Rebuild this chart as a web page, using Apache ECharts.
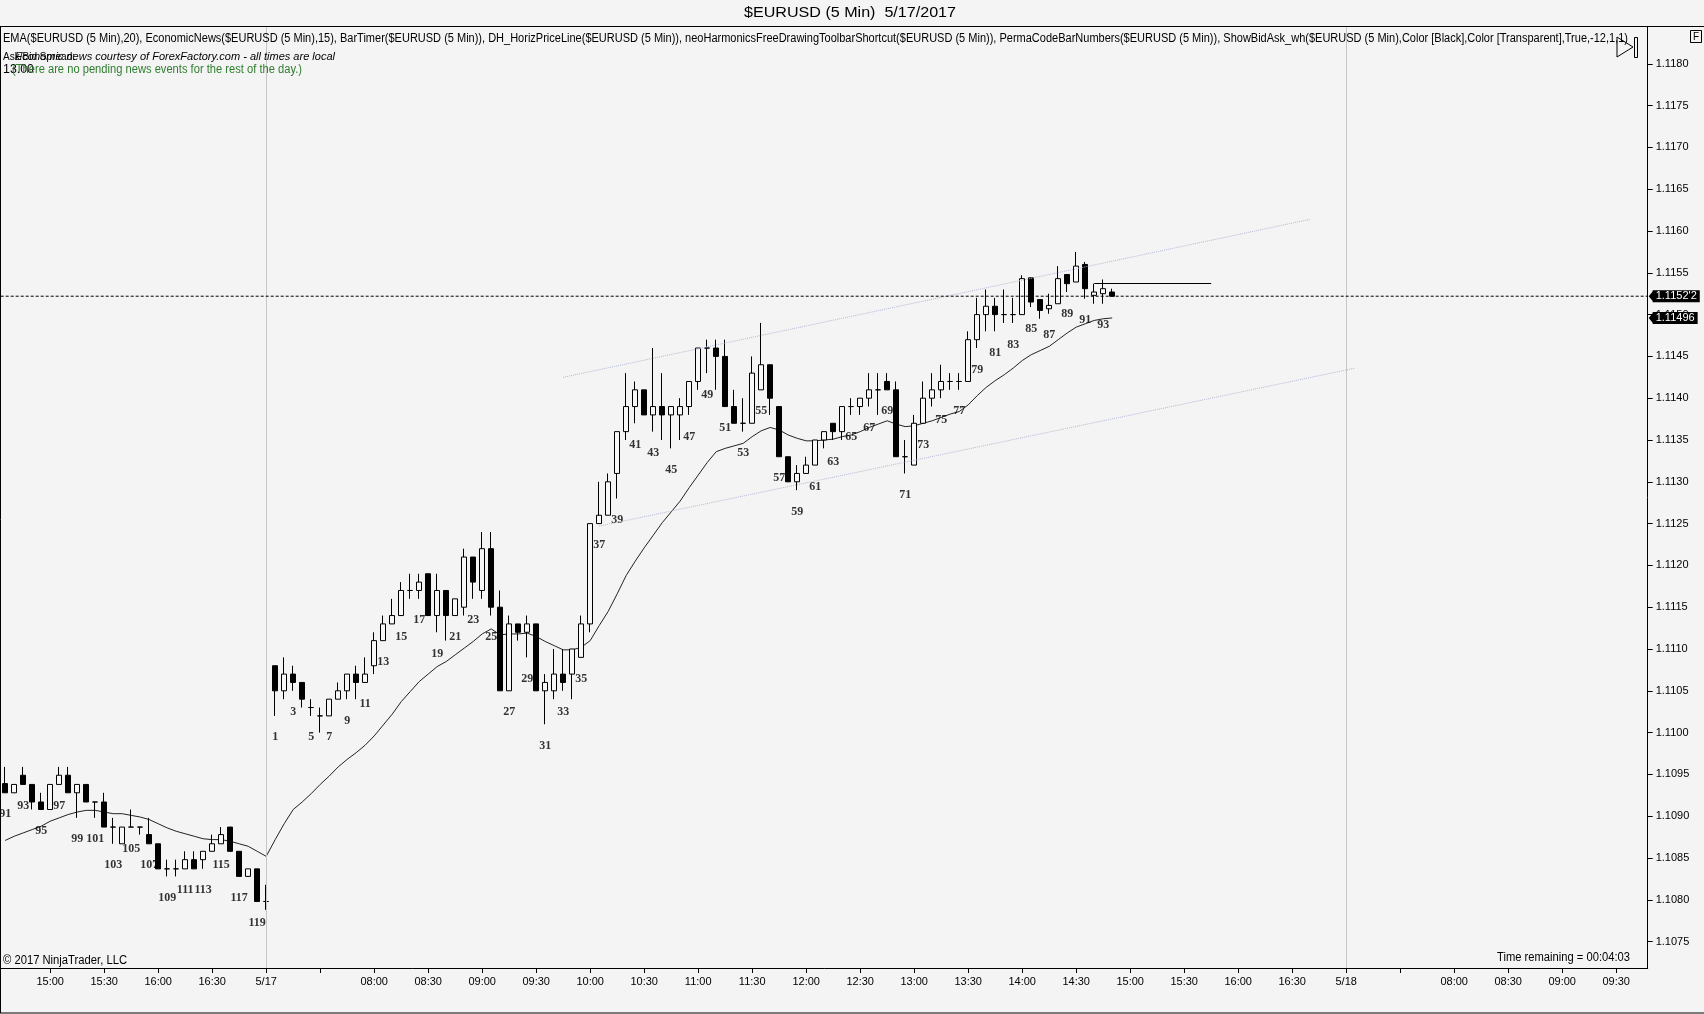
<!DOCTYPE html>
<html><head><meta charset="utf-8">
<script src="https://cdn.jsdelivr.net/npm/echarts/dist/echarts.min.js"></script>
<style>html,body{margin:0;padding:0;background:#f4f4f4}#c{width:1704px;height:1014px}</style>
</head><body><div id="c"></div><script>
// ---------------- DATA ----------------
// Previous session (5/16) bars 91..120, each [open, close, low, high]
const prevDayBars = [
 [1.10939,1.10928,1.10928,1.10959],[1.10928,1.10938,1.10928,1.10938],[1.10949,1.10938,1.10938,1.10959],
 [1.10938,1.10917,1.10908,1.10938],[1.10917,1.10908,1.10908,1.10928],[1.10908,1.10938,1.10908,1.10938],
 [1.10938,1.10949,1.10938,1.10959],[1.10949,1.10928,1.10928,1.10959],[1.10928,1.10938,1.10898,1.10938],
 [1.10938,1.10917,1.10917,1.10938],[1.10917,1.10917,1.10898,1.10917],[1.10917,1.10887,1.10887,1.10928],
 [1.10887,1.10887,1.10867,1.10898],[1.10867,1.10887,1.10867,1.10887],[1.10887,1.10887,1.10887,1.10908],
 [1.10887,1.10887,1.10878,1.10887],[1.10878,1.10867,1.10867,1.10898],[1.10867,1.10837,1.10837,1.10867],
 [1.10837,1.10837,1.10828,1.10848],[1.10837,1.10837,1.10828,1.10848],[1.10837,1.10848,1.10837,1.10858],
 [1.10848,1.10837,1.10837,1.10858],[1.10848,1.10858,1.10837,1.10858],[1.10858,1.10867,1.10858,1.10878],
 [1.10867,1.10878,1.10867,1.10887],[1.10887,1.10858,1.10858,1.10887],[1.10858,1.10828,1.10828,1.10858],
 [1.10828,1.10837,1.10828,1.10837],[1.10837,1.10798,1.10798,1.10837],[1.10798,1.10798,1.10788,1.10818]
];
const prevFirstBarNumber = 91;
// Current session (5/17) bars 1..94, each [open, close, low, high]
const todayBars = [
 [1.1108,1.1105,1.1102,1.1108],[1.1105,1.1107,1.1104,1.1109],[1.1107,1.1106,1.1105,1.1108],[1.1106,1.1104,1.1103,1.1106],
 [1.1103,1.1103,1.1102,1.1104],[1.1102,1.1102,1.1100,1.1103],[1.1102,1.1104,1.1102,1.1104],[1.1104,1.1105,1.1104,1.1106],
 [1.1105,1.1107,1.1104,1.1107],[1.1107,1.1106,1.1104,1.1108],[1.1106,1.1107,1.1106,1.1109],[1.1108,1.1111,1.1107,1.1112],
 [1.1111,1.1113,1.1111,1.1114],[1.1113,1.1114,1.1113,1.1116],[1.1114,1.1117,1.1114,1.1118],[1.1117,1.1117,1.1116,1.1119],
 [1.1117,1.1118,1.1116,1.1119],[1.1119,1.1114,1.1114,1.1119],[1.1114,1.1117,1.1112,1.1119],[1.1117,1.1114,1.1111,1.1117],
 [1.1114,1.1116,1.1114,1.1116],[1.1115,1.1121,1.1114,1.1122],[1.1121,1.1118,1.1116,1.1121],[1.1117,1.1122,1.1116,1.1124],
 [1.1122,1.1115,1.1114,1.1124],[1.1115,1.1105,1.1105,1.1117],[1.1105,1.1113,1.1105,1.1114],[1.1113,1.1112,1.1111,1.1113],
 [1.1112,1.1113,1.1109,1.1114],[1.1113,1.1105,1.1105,1.1113],[1.1105,1.1106,1.1101,1.1107],[1.1105,1.1107,1.1104,1.1110],
 [1.1107,1.1106,1.1105,1.1110],[1.1107,1.1110,1.1104,1.1110],[1.1109,1.1113,1.1109,1.1114],[1.1113,1.1125,1.1112,1.1125],
 [1.1125,1.1126,1.1125,1.1130],[1.1126,1.1130,1.1126,1.1131],[1.1131,1.1136,1.1128,1.1136],[1.1136,1.1139,1.1135,1.1143],
 [1.1139,1.1141,1.1137,1.1142],[1.1141,1.1138,1.1138,1.1141],[1.1138,1.1139,1.1136,1.1146],[1.1139,1.1138,1.1135,1.1143],
 [1.1138,1.1139,1.1134,1.1139],[1.1138,1.1139,1.1135,1.1140],[1.1139,1.1142,1.1138,1.1142],[1.1142,1.1146,1.1141,1.1146],
 [1.1146,1.1146,1.1143,1.1147],[1.1146,1.1145,1.1141,1.1147],[1.1145,1.1139,1.1139,1.1147],[1.1139,1.1137,1.1137,1.1141],
 [1.1137,1.1137,1.1136,1.1140],[1.1137,1.1143,1.1137,1.1145],[1.1141,1.1144,1.1141,1.1149],[1.1144,1.1140,1.1138,1.1144],
 [1.1139,1.1133,1.1133,1.1139],[1.1133,1.1130,1.1130,1.1133],[1.1130,1.1131,1.1129,1.1132],[1.1131,1.1132,1.1131,1.1133],
 [1.1132,1.1135,1.1132,1.1135],[1.1135,1.1136,1.1134,1.1136],[1.1137,1.1136,1.1135,1.1137],[1.1136,1.1139,1.1135,1.1139],
 [1.1139,1.1139,1.1138,1.1140],[1.1139,1.1140,1.1138,1.1140],[1.1140,1.1141,1.1139,1.1143],[1.1141,1.1141,1.1138,1.1143],
 [1.1142,1.1141,1.1141,1.1143],[1.1141,1.1133,1.1133,1.1142],[1.1133,1.1133,1.1131,1.1135],[1.1132,1.1137,1.1132,1.1138],
 [1.1137,1.1140,1.1137,1.1142],[1.1140,1.1141,1.1139,1.1143],[1.1141,1.1142,1.1140,1.1144],[1.1142,1.1142,1.1141,1.1143],
 [1.1142,1.1142,1.1141,1.1143],[1.1142,1.1147,1.1142,1.1148],[1.1147,1.1150,1.1146,1.1152],[1.1150,1.1151,1.1148,1.1153],
 [1.1151,1.1150,1.1148,1.1152],[1.1150,1.1150,1.1149,1.1153],[1.1150,1.1150,1.1149,1.1152],[1.1150,1.11543,1.1150,1.11547],
 [1.11544,1.11515,1.11509,1.11544],[1.11518,1.11505,1.11495,1.11518],[1.11507,1.11511,1.11501,1.11525],[1.11513,1.11543,1.11513,1.11558],
 [1.11548,1.11537,1.11527,1.11548],[1.11539,1.11558,1.11539,1.11575],[1.11560,1.11531,1.11519,1.11563],[1.11523,1.11527,1.11513,1.11537],
 [1.11525,1.11531,1.11513,1.11542],[1.11527,1.11522,1.11522,1.11531]
];
// EMA(20)
const prevDayEma = [1.10871,1.10876,1.10880,1.10884,1.10888,1.10894,1.10898,1.10902,1.10905,1.10907,1.10907,1.10905,1.10903,1.10903,1.10901,
 1.10899,1.10896,1.10891,1.10886,1.10882,1.10879,1.10876,1.10873,1.10872,1.10872,1.10870,1.10867,1.10864,1.10858,1.10852];
const todayEma = [1.10872,1.10891,1.10908,1.10917,1.10927,1.10938,1.10948,1.10959,1.10968,1.10976,1.10985,1.10996,1.11009,1.11022,1.11037,
 1.11049,1.11061,1.11070,1.11079,1.11085,1.11093,1.11101,1.11109,1.11118,1.11124,1.11117,1.11118,1.11118,1.11119,1.11115,
 1.11109,1.11104,1.11099,1.11099,1.11102,1.11110,1.11128,1.11145,1.11166,1.11188,1.11205,1.11221,1.11236,1.11251,1.11264,
 1.11277,1.11293,1.11308,1.11323,1.11336,1.11340,1.11343,1.11346,1.11354,1.11361,1.11365,1.11362,1.11356,1.11352,1.11349,
 1.11349,1.11350,1.11351,1.11354,1.11356,1.11360,1.11365,1.11369,1.11373,1.11369,1.11366,1.11367,1.11370,1.11373,1.11377,
 1.11381,1.11384,1.11392,1.11403,1.11413,1.11421,1.11428,1.11436,1.11445,1.11452,1.11457,1.11462,1.11470,1.11478,1.11485,
 1.11489,1.11493,1.11495,1.11496];
// Drawn objects (slot index, price)
const upperChannel = [[62, 1.11425], [145, 1.11614]];
const lowerChannel = [[66, 1.11247], [150, 1.11436]];
const horizPriceLine = [[121, 1.11537], [134, 1.11537]];
// X-axis tick labels keyed by slot ('' = tick only)
const xTickLabels = {
 '5/16 15:00':'15:00','5/16 15:30':'15:30','5/16 16:00':'16:00','5/16 16:30':'16:30','5/16 17:00':'5/17',
 '5/17 07:30':'','5/17 08:00':'08:00','5/17 08:30':'08:30','5/17 09:00':'09:00','5/17 09:30':'09:30','5/17 10:00':'10:00',
 '5/17 10:30':'10:30','5/17 11:00':'11:00','5/17 11:30':'11:30','5/17 12:00':'12:00','5/17 12:30':'12:30','5/17 13:00':'13:00',
 '5/17 13:30':'13:30','5/17 14:00':'14:00','5/17 14:30':'14:30','5/17 15:00':'15:00','5/17 15:30':'15:30','5/17 16:00':'16:00',
 '5/17 16:30':'16:30','5/17 17:00':'5/18','5/18 07:30':'','5/18 08:00':'08:00','5/18 08:30':'08:30','5/18 09:00':'09:00','5/18 09:30':'09:30'
};
const yRange = [1.1071842, 1.1184402];

// ---------------- HELPERS ----------------
function slotTime(n){ const m = 7*60 + 5*n; const h = Math.floor(m/60), mm = m%60; return (h<10?'0':'')+h+':'+(mm<10?'0':'')+mm; }
const categories = [];
for (let n = prevFirstBarNumber; n < prevFirstBarNumber + prevDayBars.length; n++) categories.push('5/16 ' + slotTime(n));
for (let k = 1; k <= 120; k++) categories.push('5/17 ' + slotTime(k));
for (let k = 1; k <= 33; k++) categories.push('5/18 ' + slotTime(k));
const todayOffset = prevDayBars.length; // index of today's bar 1

const mctx = document.createElement('canvas').getContext('2d');
function textW(str, font){ mctx.font = font; return mctx.measureText(str).width; }
function hasFont(name){ const s='abcdefghijklmnopqrstuvwxyz0123456789ABCDEF'; return textW(s, '40px "'+name+'", monospace') !== textW(s, '40px monospace'); }
const NARROW = hasFont('Liberation Sans Narrow');
const AXF = NARROW ? '"Liberation Sans Narrow", "Liberation Sans", sans-serif' : '"Liberation Sans", sans-serif';
const AXS = NARROW ? 12 : 11;
const SANS = '"Liberation Sans", Arial, sans-serif';

function fitText(str, o){
  const font = (o.style||'normal')+' '+(o.weight||'normal')+' '+o.size+'px '+o.family;
  const w = textW(str, font);
  const sx = o.width ? o.width / w : 1;
  return { type:'text', x:o.x, y:o.y, scaleX:sx, silent:true, z:100,
    style:{ text:str, font:font, fill:o.color||'#000', textAlign:o.align||'left', textVerticalAlign:'middle', align:o.align||'left', verticalAlign:'middle' } };
}

const candleData = [], emaData = [], numData = [];
prevDayBars.forEach((b,j)=>{ candleData.push([j].concat(b)); const num = prevFirstBarNumber + j; if (num % 2) numData.push([j, b[2], num]); });
todayBars.forEach((b,j)=>{ candleData.push([todayOffset+j].concat(b)); const num = j+1; if (num % 2) numData.push([todayOffset+j, b[2], num]); });
prevDayEma.forEach((v,j)=>emaData.push([j, v]));
todayEma.forEach((v,j)=>emaData.push([todayOffset+j, v]));

const lastClose = todayBars[todayBars.length-1][1];
const lastEma = todayEma[todayEma.length-1];
const lc = lastClose.toFixed(5), lastCloseText = lc.slice(0,6) + "'" + lc.slice(6);
const tickShown = (idx) => Object.prototype.hasOwnProperty.call(xTickLabels, categories[idx]);

const chart = echarts.init(document.getElementById('c'));
const tagLabel = (txt) => ({ show:true, distance:5, formatter:txt, color:'#fff', backgroundColor:'#000',
  padding:[1,3,0,3], fontFamily:AXF, fontSize:AXS, lineHeight:11, align:'left', verticalAlign:'middle' });

chart.setOption({
  animation:false,
  backgroundColor:'#f4f4f4',
  grid:{ left:0.7, right:56.3, top:27, bottom:46, containLabel:false },
  xAxis:[{ type:'category', data:categories, boundaryGap:true,
    axisLine:{ show:true, onZero:false, lineStyle:{ color:'#000', width:1 } },
    axisTick:{ show:true, alignWithLabel:true, length:5, interval:(i)=>tickShown(i), lineStyle:{ color:'#000' } },
    axisLabel:{ interval:(i)=>tickShown(i), formatter:(v)=> xTickLabels[v] || '', color:'#000', fontFamily:AXF, fontSize:AXS, margin:8 },
    splitLine:{ show:false } },
    { type:'value', min:0, max:1, show:false, axisLine:{ onZero:false } }],
  yAxis:{ type:'value', position:'right', min:yRange[0], max:yRange[1], splitNumber:22, scale:true,
    axisLine:{ show:true, onZero:false, lineStyle:{ color:'#000', width:1 } },
    axisTick:{ show:true, length:5, lineStyle:{ color:'#000' } },
    axisLabel:{ formatter:(v)=>v.toFixed(4), showMinLabel:false, showMaxLabel:false, color:'#000', fontFamily:AXF, fontSize:AXS, margin:8 },
    splitLine:{ show:false } },
  series:[
    { type:'candlestick', name:'$EURUSD', data:candleData, encode:{ x:0, y:[1,2,3,4] }, barWidth:5,
      itemStyle:{ color:'#f8f8f8', color0:'#000', borderColor:'#000', borderColor0:'#000', borderColorDoji:'#000', borderWidth:1 }, z:3 },
    { type:'line', name:'EMA', data:emaData, symbol:'none', smooth:false, lineStyle:{ color:'#222', width:1 }, z:2,
      markLine:{ silent:true, symbol:['none','none'], animation:false,
        data:[
          { xAxis:categories[todayOffset-1], lineStyle:{ color:'#c6c6c6', width:1, type:'solid' }, label:{ show:false } },
          { xAxis:categories[todayOffset+119], lineStyle:{ color:'#c6c6c6', width:1, type:'solid' }, label:{ show:false } },
          [ { coord:upperChannel[0], lineStyle:{ color:'#b4b9d6', width:1, type:'dotted' }, label:{ show:false } }, { coord:upperChannel[1] } ],
          [ { coord:lowerChannel[0], lineStyle:{ color:'#b4b9d6', width:1, type:'dotted' }, label:{ show:false } }, { coord:lowerChannel[1] } ],
          [ { coord:horizPriceLine[0], lineStyle:{ color:'#000', width:1, type:'solid' }, label:{ show:false } }, { coord:horizPriceLine[1] } ]
        ] } },
    { type:'line', name:'LastPrice', xAxisIndex:1, data:[[0, lastClose],[1, lastClose]], symbol:'none', silent:true, z:5,
      lineStyle:{ color:'#000', width:1, type:[3,2] }, endLabel:tagLabel(lastCloseText) },
    { type:'line', name:'EMAValue', xAxisIndex:1, data:[[0, lastEma],[1, lastEma]], symbol:'none', silent:true, z:5,
      lineStyle:{ color:'rgba(0,0,0,0)', width:1 }, endLabel:tagLabel(lastEma.toFixed(5)) },
    { type:'scatter', name:'BarNumbers', data:numData, symbolSize:1, itemStyle:{ color:'rgba(0,0,0,0)' }, z:4, silent:true,
      label:{ show:true, position:'bottom', distance:15, formatter:(p)=>String(p.value[2]), color:'#000',
        fontFamily:'"Liberation Serif", "DejaVu Serif", serif', fontWeight:'bold', fontSize:12 } }
  ]
});

// decorations: frame, title, indicator texts, tag arrows, toolbar icons
const yClose = chart.convertToPixel({ yAxisIndex:0 }, lastClose);
const yEma = chart.convertToPixel({ yAxisIndex:0 }, lastEma);
const axX = 1647.7;
const g = [
  { type:'line', shape:{ x1:0, y1:26.5, x2:1704, y2:26.5 }, style:{ stroke:'#000', lineWidth:1 }, silent:true },
  { type:'line', shape:{ x1:0.5, y1:26.5, x2:0.5, y2:1013 }, style:{ stroke:'#000', lineWidth:1 }, silent:true },
  { type:'line', shape:{ x1:0, y1:1013, x2:1704, y2:1013 }, style:{ stroke:'#000', lineWidth:1 }, silent:true },
  { type:'polygon', shape:{ points:[[axX+1, yClose],[axX+6, yClose-6],[axX+6, yClose+6]] }, style:{ fill:'#000' }, silent:true, z:50 },
  { type:'polygon', shape:{ points:[[axX+1, yEma],[axX+6, yEma-6],[axX+6, yEma+6]] }, style:{ fill:'#000' }, silent:true, z:50 },
  { type:'polygon', shape:{ points:[[1617,37],[1633,47],[1617,57]] }, style:{ fill:'none', stroke:'#000', lineWidth:1 }, silent:true },
  { type:'rect', shape:{ x:1634.5, y:37.5, width:3, height:20 }, style:{ fill:'none', stroke:'#000', lineWidth:1 }, silent:true },
  { type:'rect', shape:{ x:1690.5, y:30.5, width:11, height:12 }, style:{ fill:'#f4f4f4', stroke:'#000', lineWidth:1 }, silent:true },
  fitText('F', { x:1696, y:37, size:10, family:SANS, align:'center' }),
  fitText('$EURUSD (5 Min)  5/17/2017', { x:850, y:13, size:15, family:SANS, align:'center', width:212 }),
  fitText('EMA($EURUSD (5 Min),20), EconomicNews($EURUSD (5 Min),15), BarTimer($EURUSD (5 Min)), DH_HorizPriceLine($EURUSD (5 Min)), neoHarmonicsFreeDrawingToolbarShortcut($EURUSD (5 Min)), PermaCodeBarNumbers($EURUSD (5 Min)), ShowBidAsk_wh($EURUSD (5 Min),Color [Black],Color [Transparent],True,-12,1,1)',
    { x:3, y:39, size:12, family:SANS, width:1625 }),
  fitText('Ask/Bid Spread:', { x:3, y:57, size:11, family:SANS, width:72 }),
  fitText('Economic news courtesy of ForexFactory.com - all times are local', { x:15, y:57, size:11, family:SANS, style:'italic', width:320 }),
  fitText('13.00', { x:3, y:70, size:12, family:SANS, width:31 }),
  fitText('(There are no pending news events for the rest of the day.)', { x:12, y:70, size:12, family:SANS, color:'#2f7d2f', width:290 }),
  fitText('\u00a9 2017 NinjaTrader, LLC', { x:3, y:961, size:12, family:SANS, width:124 }),
  fitText('Time remaining = 00:04:03', { x:1630, y:958, size:12, family:SANS, align:'right', width:133 })
];
chart.setOption({ graphic:{ elements:g } });
</script></body></html>
